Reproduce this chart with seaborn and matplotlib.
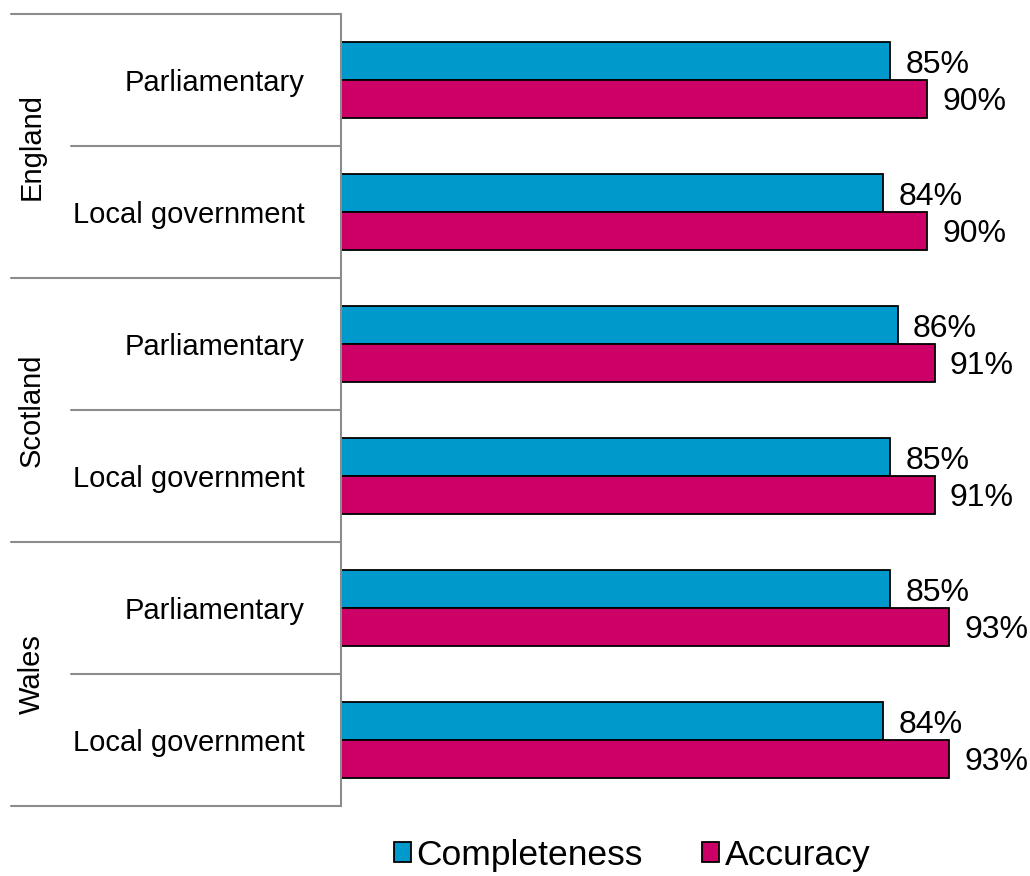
import matplotlib.pyplot as plt
import matplotlib.transforms as mtransforms
import pandas as pd
import seaborn as sns

# data
NATIONS = ["England", "Scotland", "Wales"]
ELECTIONS = ["Parliamentary", "Local government"]
COMPLETENESS = [85, 84, 86, 85, 85, 84]
ACCURACY = [90, 90, 91, 91, 93, 93]
MEASURES = ["Completeness", "Accuracy"]
COLORS = ["#0099CC", "#CC0066"]

FONT_SIZE = 21
LABEL_SIZE = 23
LEGEND_SIZE = 25.5
LINE_COLOR = "#8C8C8C"

keys = [f"{n}|{e}" for n in NATIONS for e in ELECTIONS]
df = pd.DataFrame(
    {
        "key": keys * 2,
        "value": COMPLETENESS + ACCURACY,
        "measure": [MEASURES[0]] * len(keys) + [MEASURES[1]] * len(keys),
    }
)

sns.set_style("white")
plt.rcParams["font.family"] = ["Liberation Sans", "DejaVu Sans"]
plt.rcParams["text.color"] = "black"
plt.rcParams["ytick.color"] = "black"

fig = plt.figure(figsize=(10.3, 8.76), dpi=100)
ax = fig.add_axes([341 / 1030, 70 / 876, 689 / 1030, 792 / 876])

sns.barplot(
    data=df,
    x="value",
    y="key",
    hue="measure",
    hue_order=MEASURES,
    order=keys,
    palette=COLORS,
    saturation=1,
    orient="h",
    width=0.57,
    gap=0,
    edgecolor="black",
    linewidth=1.3,
    ax=ax,
    legend=True,
)

for container in ax.containers:
    anns = ax.bar_label(
        container,
        labels=[f"{v:.0f}%" for v in container.datavalues],
        padding=11,
        fontsize=LABEL_SIZE,
        color="black",
        clip_on=False,
    )
    # labels sit a touch below the bar centre in the original
    for a in anns:
        a.xyann = (11, -2.5)

ax.set_xlim(10.2, 104)
ax.set_ylim(len(keys) - 0.5, -0.5)
ax.set_xlabel("")
ax.set_ylabel("")
ax.set_xticks([])
ax.set_yticks(range(len(keys)))
ax.set_yticklabels([k.split("|")[1] for k in keys], fontsize=FONT_SIZE, color="black")
ax.tick_params(axis="y", length=0, pad=26)

for side in ("top", "right", "bottom"):
    ax.spines[side].set_visible(False)
ax.spines["left"].set_color(LINE_COLOR)
ax.spines["left"].set_linewidth(1.5)

# hierarchical label separators
trans = mtransforms.blended_transform_factory(ax.transAxes, ax.transData)
outer_x = (11 - 341) / 689
inner_x = (71 - 341) / 689
for i in range(len(keys) + 1):
    y = i - 0.5
    x0 = outer_x if i % 2 == 0 else inner_x
    ax.plot([x0, 0], [y, y], color=LINE_COLOR, lw=1.5, transform=trans, clip_on=False)

for j, nation in enumerate(NATIONS):
    ax.text(
        (32 - 341) / 689,
        2 * j + 0.5,
        nation,
        rotation=90,
        ha="center",
        va="center",
        fontsize=FONT_SIZE,
        color="black",
        transform=trans,
    )

handles, labels = ax.get_legend_handles_labels()
ax.get_legend().remove()
fig.legend(
    handles,
    labels,
    loc="center",
    bbox_to_anchor=(632 / 1030, 21 / 876),
    ncol=2,
    frameon=False,
    fontsize=LEGEND_SIZE,
    handlelength=0.5,
    handleheight=0.5,
    handletextpad=0.15,
    columnspacing=1.65,
)

fig.savefig("out.png", dpi=100)
